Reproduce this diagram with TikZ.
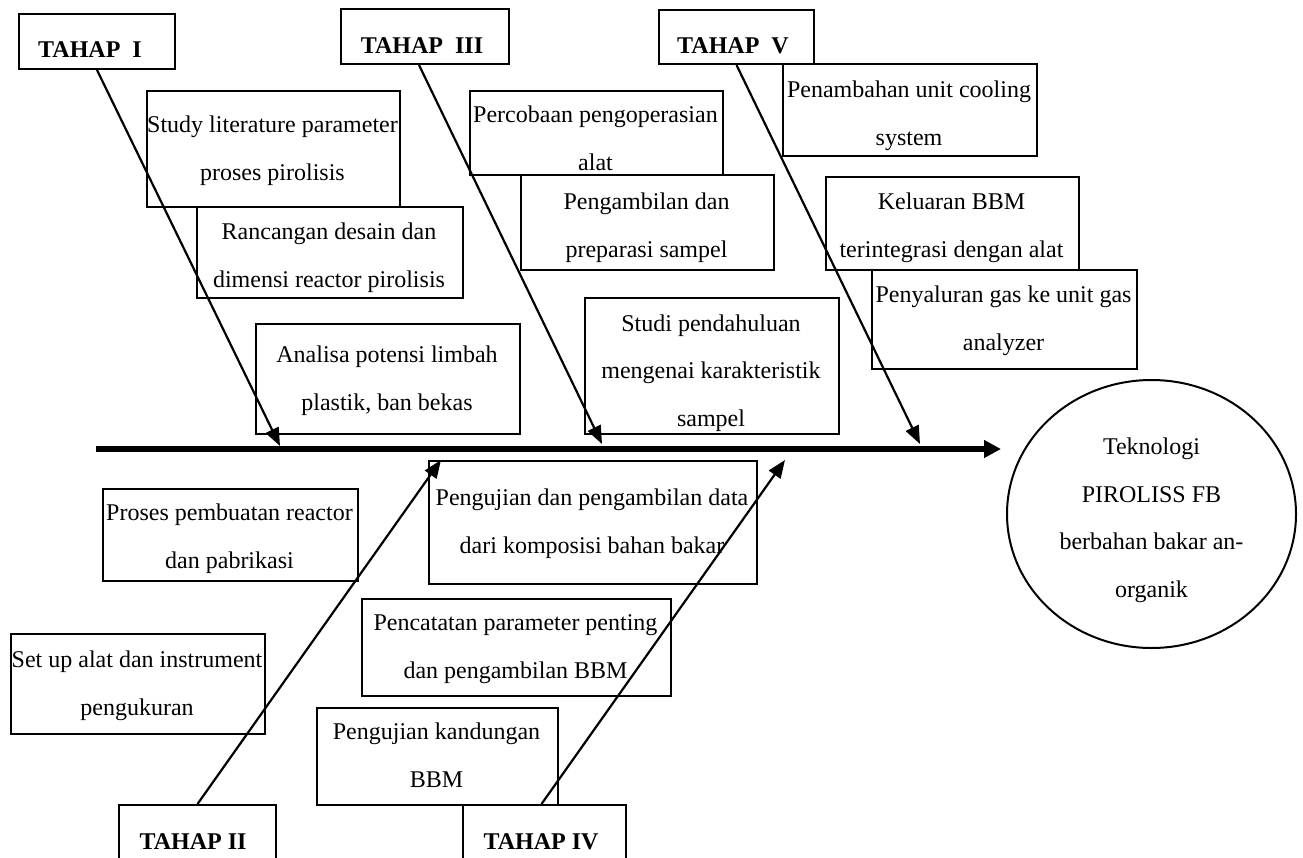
\documentclass[tikz,border=0pt]{standalone}
\usepackage{fontspec}
\setmainfont{Liberation Serif}
\usetikzlibrary{arrows.meta,shapes.geometric}
\tikzset{
  box/.style={draw, line width=2pt, inner sep=0pt, anchor=north west},
  txt/.style={align=center, inner sep=0pt, font=\fontsize{24}{47.5}\selectfont, anchor=base},
  tahap/.style={inner sep=0pt, font=\fontsize{24}{28}\selectfont\bfseries, anchor=base},
  branch/.style={line width=2.2pt, -{Triangle[length=18pt,width=14pt]}},
  spine/.style={line width=5.5pt, -{Triangle[length=17pt,width=17pt]}}
}
\begin{document}
\begin{tikzpicture}[x=1pt,y=-1pt]
\useasboundingbox (0,0) rectangle (1303,857);
\fill[white] (0,0) rectangle (1303,857);
\clip (0,0) rectangle (1303,857);

% TAHAP boxes
\node[box, minimum width=156pt, minimum height=55pt] (th1) at (18,13) {};
\node[tahap] (th1t) at (90,57) {TAHAP~~I};
\node[box, minimum width=168pt, minimum height=55pt] (th3) at (340,8) {};
\node[tahap] (th3t) at (422,53) {TAHAP~~III};
\node[box, minimum width=155pt, minimum height=54pt] (th5) at (658,9) {};
\node[tahap] (th5t) at (733,53) {TAHAP~~V};
\node[box, minimum width=157pt, minimum height=70pt] (th2) at (118,804) {};
\node[tahap] (th2t) at (193,849) {TAHAP II};
\node[box, minimum width=163pt, minimum height=70pt] (th4) at (462,804) {};
\node[tahap] (th4t) at (541,849) {TAHAP IV};

% upper boxes (text placed at baseline of last line)
\node[box, minimum width=253pt, minimum height=116pt] (b1) at (146,90) {};
\node[txt] (b1t) at (272.5,180) {Study literature parameter\\proses pirolisis};
\node[box, minimum width=266pt, minimum height=91pt] (b2) at (196,206) {};
\node[txt] (b2t) at (329,287) {Rancangan desain dan\\dimensi reactor pirolisis};
\node[box, minimum width=264pt, minimum height=110pt] (b3) at (255,323) {};
\node[txt] (b3t) at (387,410) {Analisa potensi limbah\\plastik, ban bekas};
\node[box, minimum width=253pt, minimum height=84pt] (b4) at (469,90) {};
\node[txt] (b4t) at (595.5,170) {Percobaan pengoperasian\\alat};
\node[box, minimum width=253pt, minimum height=95pt] (b5) at (520,174) {};
\node[txt] (b5t) at (646.5,257) {Pengambilan dan\\preparasi sampel};
\node[box, minimum width=254pt, minimum height=136pt] (b6) at (584,297) {};
\node[txt] (b6t) at (711,426) {Studi pendahuluan\\mengenai karakteristik\\sampel};
\node[box, minimum width=254pt, minimum height=92pt] (b7) at (782,63) {};
\node[txt] (b7t) at (909,145) {Penambahan unit cooling\\system};
\node[box, minimum width=253pt, minimum height=93pt] (b8) at (825,176) {};
\node[txt] (b8t) at (951.5,257) {Keluaran BBM\\terintegrasi dengan alat};
\node[box, minimum width=265pt, minimum height=99pt] (b9) at (871,269) {};
\node[txt] (b9t) at (1003.5,350) {Penyaluran gas ke unit gas\\analyzer};

% lower boxes
\node[box, minimum width=255pt, minimum height=92pt] (d1) at (102,488) {};
\node[txt] (d1t) at (229.5,568) {Proses pembuatan reactor\\dan pabrikasi};
\node[box, minimum width=254pt, minimum height=100pt] (d2) at (10,633) {};
\node[txt] (d2t) at (137,715) {Set up alat dan instrument\\pengukuran};
\node[box, minimum width=328pt, minimum height=123pt] (d3) at (428,460) {};
\node[txt] (d3t) at (592,553) {Pengujian dan pengambilan data\\dari komposisi bahan bakar};
\node[box, minimum width=309pt, minimum height=97pt] (d4) at (361,598) {};
\node[txt] (d4t) at (515.5,678) {Pencatatan parameter penting\\dan pengambilan BBM};
\node[box, minimum width=241pt, minimum height=97pt] (d5) at (316,707) {};
\node[txt] (d5t) at (436.5,787) {Pengujian kandungan\\BBM};

% goal
\node[draw, ellipse, line width=2pt, inner sep=0pt, minimum width=289pt, minimum height=268pt] (goal) at (1151.5,514) {};
\node[txt] (goalt) at (1151.5,597) {Teknologi\\PIROLISS FB\\berbahan bakar an-\\organik};

% spine
\coordinate (s0) at (96,449);
\coordinate (s1) at (1001,449);
\draw[spine] (s0) -- (s1);

% branch end points
\coordinate (c1) at (280,446);
\coordinate (c3) at (602,444);
\coordinate (c5) at (920,444);
\coordinate (c2) at (441,460);
\coordinate (c4) at (785,460);

\draw[branch] (th1.south) -- (c1);
\draw[branch] ([xshift=-6pt]th3.south) -- (c3);
\draw[branch] (th5.south) -- (c5);
\draw[branch] (th2.north) -- (c2);
\draw[branch] ([xshift=-3pt]th4.north) -- (c4);
\end{tikzpicture}
\end{document}
